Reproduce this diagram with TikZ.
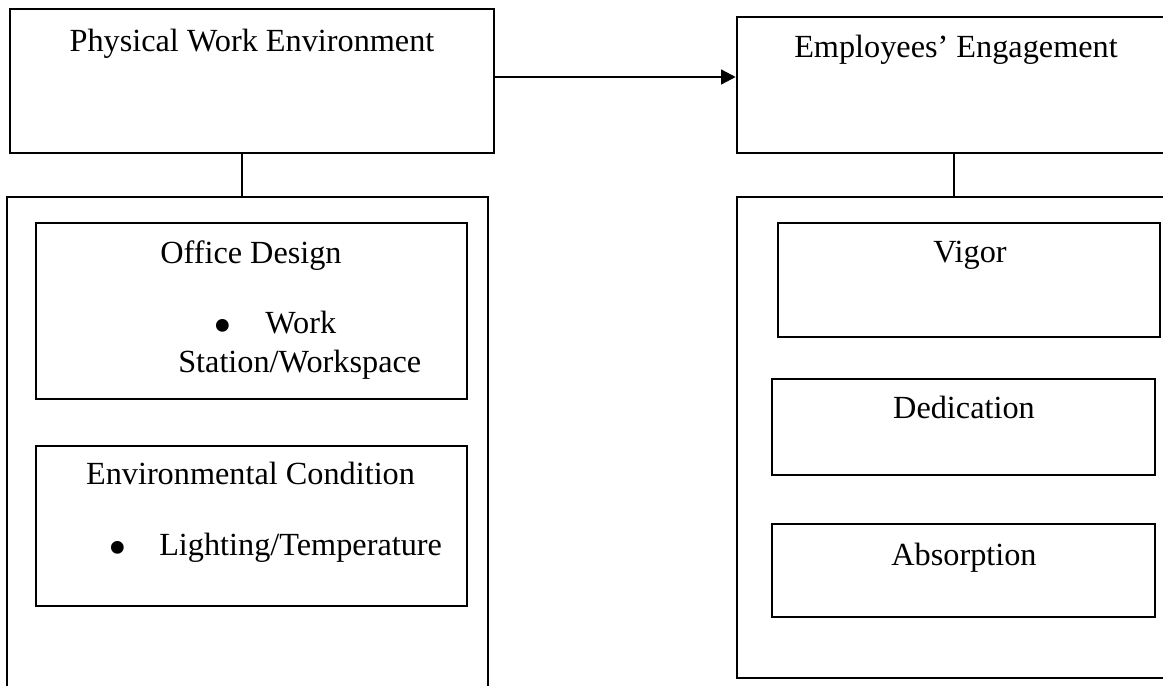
\documentclass[tikz,border=0pt]{standalone}
\usepackage{fontspec}
\setmainfont{Liberation Serif}
\usetikzlibrary{arrows.meta}
\begin{document}
\begin{tikzpicture}[x=0.75pt,y=-0.75pt,
  box/.style={draw, line width=1.5pt, inner sep=0pt},
  bigbox/.style={draw, line width=1.9pt, inner sep=0pt},
  txt/.style={anchor=base, inner sep=0pt, font=\fontsize{24.2}{29}\selectfont},
  txtw/.style={anchor=base west, inner sep=0pt, font=\fontsize{24.2}{29}\selectfont},
  bul/.style={anchor=base, inner sep=0pt, font=\fontsize{40}{40}\selectfont},
  link/.style={line width=1.8pt}]
\clip (0,0) rectangle (1163,685);
\fill[white] (0,0) rectangle (1163,685);
% top boxes
\node[bigbox, minimum width=484*0.75pt, minimum height=144*0.75pt] (ltop) at (252,81) {};
\node[bigbox, minimum width=443*0.75pt, minimum height=136*0.75pt] (rtop) at (958.5,85) {};
% big boxes
\node[bigbox, minimum width=481*0.75pt, minimum height=503*0.75pt] (lbig) at (247.5,448.5) {};
\node[bigbox, minimum width=443*0.75pt, minimum height=481*0.75pt] (rbig) at (958.5,437.5) {};
% inner boxes left
\node[box, minimum width=431*0.75pt, minimum height=176*0.75pt] (office) at (251.5,311) {};
\node[box, minimum width=431*0.75pt, minimum height=160*0.75pt] (envc) at (251.5,526) {};
% inner boxes right
\node[box, minimum width=382*0.75pt, minimum height=114*0.75pt] (vigor) at (969,280) {};
\node[box, minimum width=383*0.75pt, minimum height=96*0.75pt] (dedic) at (963.5,427) {};
\node[box, minimum width=383*0.75pt, minimum height=93*0.75pt] (absor) at (963.5,570.5) {};
% texts
\node[txt] (tpwe) at (252,52) {Physical Work Environment};
\node[txt] (tee) at (956,58) {Employees’ Engagement};
\node[txt] (tod) at (251,263) {Office Design};
\node[bul] (b1) at (223,343) {\smash{•}};
\node[txtw] (twork) at (265,333) {Work};
\node[txtw] (tstat) at (178,372) {Station/Workspace};
\node[txt] (tenv) at (250.5,484) {Environmental Condition};
\node[bul] (b2) at (118,565) {\smash{•}};
\node[txtw] (tlight) at (159,555) {Lighting/Temperature};
\node[txt] (tvig) at (970,262) {Vigor};
\node[txt] (tded) at (964,418) {Dedication};
\node[txt] (tabs) at (964,565) {Absorption};
% connectors
\coordinate (c1) at (242,0);
\coordinate (c2) at (954,0);
\coordinate (ay) at (0,77);
\draw[link] (ltop.south -| c1) -- (lbig.north -| c1);
\draw[link] (rtop.south -| c2) -- (rbig.north -| c2);
\draw[link, -{Triangle[length=11pt,width=11pt]}] (ltop.east |- ay) -- (rtop.west |- ay);
\end{tikzpicture}
\end{document}
